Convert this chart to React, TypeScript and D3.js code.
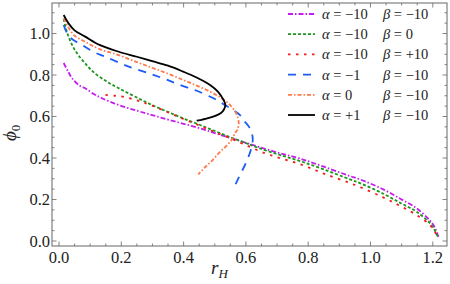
import React from 'react';
import * as d3 from 'd3';

// r_H, phi_0 pairs
const magenta: [number, number][] = [
  [0.015, 0.858], [0.03, 0.815], [0.042, 0.784], [0.063, 0.752], [0.084, 0.736], [0.11, 0.71],
  [0.138, 0.688], [0.192, 0.655], [0.25, 0.628], [0.299, 0.607], [0.35, 0.585], [0.4, 0.565],
  [0.453, 0.543], [0.5, 0.52], [0.55, 0.497], [0.6, 0.473], [0.645, 0.452], [0.709, 0.423],
  [0.774, 0.397], [0.85, 0.358], [0.934, 0.313], [0.966, 0.297], [1.041, 0.249], [1.1, 0.2],
  [1.148, 0.158], [1.19, 0.1], [1.202, 0.077], [1.212, 0.045], [1.218, 0.02],
];
const green: [number, number][] = [
  [0.015, 1.07], [0.025, 1.01], [0.042, 0.945], [0.06, 0.9], [0.084, 0.856], [0.11, 0.815],
  [0.154, 0.768], [0.192, 0.736], [0.245, 0.695], [0.299, 0.655], [0.35, 0.622], [0.4, 0.59],
  [0.453, 0.559], [0.5, 0.53], [0.55, 0.5], [0.6, 0.472], [0.645, 0.446], [0.709, 0.415],
  [0.774, 0.385], [0.85, 0.345], [0.934, 0.297], [0.966, 0.279], [1.041, 0.228], [1.1, 0.18],
  [1.148, 0.141], [1.196, 0.077], [1.21, 0.04], [1.218, 0.015],
];
const red: [number, number][] = [
  [0.149, 0.704], [0.18, 0.7], [0.208, 0.695], [0.245, 0.68], [0.27, 0.668], [0.299, 0.652],
  [0.35, 0.62], [0.4, 0.588], [0.453, 0.555], [0.5, 0.525], [0.55, 0.495], [0.6, 0.462],
  [0.661, 0.423], [0.709, 0.4], [0.774, 0.37], [0.85, 0.325], [0.95, 0.27], [1.041, 0.21],
  [1.1, 0.165], [1.148, 0.125], [1.191, 0.077], [1.208, 0.04], [1.218, 0.015],
];
const blue: [number, number][] = [
  [0.015, 1.041], [0.03, 0.99], [0.05, 0.965], [0.074, 0.945], [0.11, 0.912], [0.149, 0.888],
  [0.224, 0.84], [0.299, 0.803], [0.35, 0.775], [0.388, 0.752], [0.442, 0.724], [0.506, 0.68],
  [0.533, 0.655], [0.56, 0.63], [0.581, 0.607], [0.592, 0.583], [0.61, 0.55], [0.619, 0.519],
  [0.622, 0.49], [0.618, 0.45], [0.602, 0.382], [0.585, 0.33], [0.565, 0.268],
];
const orange: [number, number][] = [
  [0.015, 1.073], [0.03, 1.03], [0.05, 0.99], [0.084, 0.96], [0.13, 0.925], [0.192, 0.896],
  [0.25, 0.862], [0.299, 0.835], [0.35, 0.806], [0.399, 0.776], [0.44, 0.75], [0.485, 0.72],
  [0.515, 0.695], [0.538, 0.671], [0.554, 0.647], [0.565, 0.625], [0.573, 0.6], [0.577, 0.567],
  [0.572, 0.535], [0.565, 0.519], [0.554, 0.487], [0.535, 0.455], [0.517, 0.43], [0.49, 0.385],
  [0.465, 0.35], [0.447, 0.321],
];
const black: [number, number][] = [
  [0.015, 1.089], [0.03, 1.05], [0.05, 1.015], [0.084, 0.985], [0.13, 0.945], [0.192, 0.912],
  [0.25, 0.888], [0.299, 0.867], [0.35, 0.845], [0.399, 0.816], [0.44, 0.789], [0.485, 0.752],
  [0.51, 0.72], [0.522, 0.695], [0.53, 0.675], [0.534, 0.655], [0.53, 0.635], [0.52, 0.617],
  [0.495, 0.599], [0.47, 0.588], [0.453, 0.583], [0.442, 0.58],
];

const alphas = ['\u221210', '\u221210', '\u221210', '\u22121', '0', '+1'];
const betas = ['\u221210', '0', '+10', '\u221210', '\u221210', '\u221210'];

const xTicks = [0, 0.2, 0.4, 0.6, 0.8, 1.0, 1.2];
const yTicks = [0, 0.2, 0.4, 0.6, 0.8, 1.0];

const series = [
  { data: magenta, color: '#c61cf2', dash: '5,2,1.5,2' },
  { data: green, color: '#1c961c', dash: '3,2' },
  { data: red, color: '#f51a1a', dash: '2.5,5.5' },
  { data: blue, color: '#1c5cf5', dash: '8,7' },
  { data: orange, color: '#ff7a4a', dash: '4,2,1.5,2' },
  { data: black, color: '#000', dash: 'none' },
];

const W = 450, H = 284;
const L = 52, R = 447, T = 3, B = 246;
const ts = { fontFamily: '"Liberation Serif"' };

export default function App() {
  const x = d3.scaleLinear().domain([-0.02247, 1.2456]).range([L, R]);
  const y = d3.scaleLinear().domain([-0.0241, 1.147]).range([B, T]);
  const line = d3.line<[number, number]>()
    .x(d => x(d[0]))
    .y(d => y(d[1]))
    .curve(d3.curveCatmullRom.alpha(0.5));

  const xMinor = d3.range(0, 1.2451, 0.05);
  const yMinor = d3.range(0, 1.1451, 0.05);
  const gray = '#666';

  return (
    <svg width={W} height={H} style={{ position: 'absolute', left: 0, top: 0 }}>
      <rect x={0} y={0} width={W} height={H} fill="#fff" />
      <defs>
        <clipPath id="plot">
          <rect x={L} y={T} width={R - L} height={B - T} />
        </clipPath>
      </defs>
      <g clipPath="url(#plot)">
        {series.map((s, i) => (
          <path key={i} d={line(s.data) || ''} fill="none" stroke={s.color}
            strokeWidth={1.8} strokeDasharray={s.dash} />
        ))}
      </g>
      {/* frame */}
      <rect x={L} y={T} width={R - L} height={B - T} fill="none" stroke={gray} strokeWidth={1} />
      {xMinor.map((v, i) => {
        const major = xTicks.some(t => Math.abs(t - v) < 1e-6);
        const len = major ? 4.5 : 2.5;
        return (
          <g key={'xm' + i} stroke={gray} strokeWidth={0.8}>
            <line x1={x(v)} x2={x(v)} y1={B} y2={B - len} />
            <line x1={x(v)} x2={x(v)} y1={T} y2={T + len} />
          </g>
        );
      })}
      {yMinor.map((v, i) => {
        const major = yTicks.some(t => Math.abs(t - v) < 1e-6);
        const len = major ? 4.5 : 2.5;
        return (
          <g key={'ym' + i} stroke={gray} strokeWidth={0.8}>
            <line x1={L} x2={L + len} y1={y(v)} y2={y(v)} />
            <line x1={R} x2={R - len} y1={y(v)} y2={y(v)} />
          </g>
        );
      })}
      {xTicks.map(t => (
        <text key={'xt' + t} x={x(t)} y={B + 17} textAnchor="middle" fontSize={16.5} fill="#222" style={ts}>
          {t.toFixed(1)}
        </text>
      ))}
      {yTicks.map(t => (
        <text key={'yt' + t} x={L - 2} y={y(t)} dy="0.34em" textAnchor="end" fontSize={16.5} fill="#222" style={ts}>
          {t.toFixed(1)}
        </text>
      ))}
      <text x={211} y={274} fontSize={19} fontStyle="italic" fill="#222" style={ts}>
        r<tspan fontSize={13} dy={4}>H</tspan>
      </text>
      <text transform="translate(16,141) rotate(-90)" fontSize={19} fill="#222" style={ts}>
        <tspan fontStyle="italic">ϕ</tspan><tspan fontSize={13} dy={4}>0</tspan>
      </text>
      {/* legend */}
      {series.map((s, i) => {
        const ly = 14 + i * 20.2;
        return (
          <g key={'lg' + i}>
            <line x1={288} x2={315} y1={ly} y2={ly} stroke={s.color} strokeWidth={1.8}
              strokeDasharray={s.dash} />
            <text x={322} y={ly} dy="0.34em" fontSize={14.5} fill="#222" style={ts}>
              <tspan fontStyle="italic">α</tspan> = {alphas[i]}
            </text>
            <text x={383} y={ly} dy="0.34em" fontSize={14.5} fill="#222" style={ts}>
              <tspan fontStyle="italic">β</tspan> = {betas[i]}
            </text>
          </g>
        );
      })}
    </svg>
  );
}
